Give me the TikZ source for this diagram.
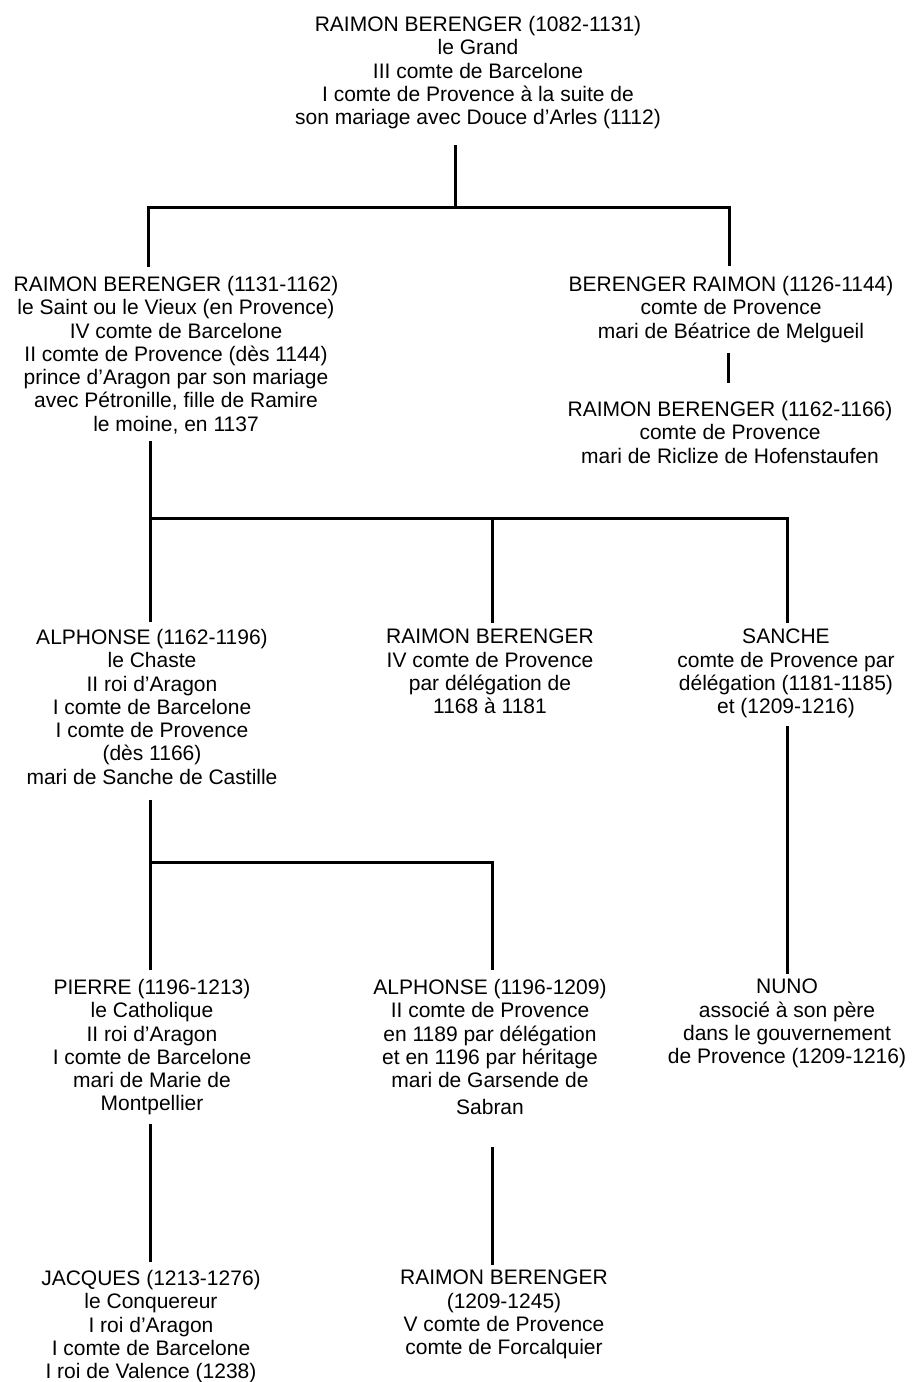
\documentclass[tikz,border=0pt]{standalone}
\usepackage{fontspec}
\setmainfont{Liberation Sans}
\usepackage{tikz}
\tikzstyle{person}=[align=center, anchor=north, inner sep=0pt, font=\fontsize{21}{23.3}\selectfont, execute at begin node={\rule{0pt}{16pt}}]
\tikzstyle{edge} = [draw,line width=3pt,-]

\begin{document}
\begin{tikzpicture}[x=1pt,y=1pt]
\useasboundingbox (0,0) rectangle (919,-1382);
% First we place the people

\node[person] (top) at (478,-16) {RAIMON BERENGER (1082-1131)\\le Grand\\III comte de Barcelone\\I comte de Provence à la suite de\\son mariage avec Douce d'Arles (1112)};

\node[person] (rbsaint) at (176,-276) {RAIMON BERENGER (1131-1162)\\le Saint ou le Vieux (en Provence)\\IV comte de Barcelone\\II comte de Provence (dès 1144)\\prince d'Aragon par son mariage\\avec Pétronille, fille de Ramire\\le moine, en 1137};
\node[person] (beraimon) at (731,-276) {BERENGER RAIMON (1126-1144)\\comte de Provence\\mari de Béatrice de Melgueil};
\node[person] (rbprov) at (730,-401) {RAIMON BERENGER (1162-1166)\\comte de Provence\\mari de Riclize de Hofenstaufen};

\node[person] (alph) at (152,-629) {ALPHONSE (1162-1196)\\le Chaste\\II roi d'Aragon\\I comte de Barcelone\\I comte de Provence\\(dès 1166)\\mari de Sanche de Castille};
\node[person] (rbdeleg) at (490,-629) {RAIMON BERENGER\\IV comte de Provence\\par délégation de\\1168 à 1181};
\node[person] (sanche) at (786,-629) {SANCHE\\comte de Provence par\\délégation (1181-1185)\\et (1209-1216)};

\node[person] (pierre) at (152,-979) {PIERRE (1196-1213)\\le Catholique\\II roi d'Aragon\\I comte de Barcelone\\mari de Marie de\\Montpellier};
\node[person] (alph2) at (490,-979) {ALPHONSE (1196-1209)\\II comte de Provence\\en 1189 par délégation\\et en 1196 par héritage\\mari de Garsende de\\[4pt]Sabran};
\node[person] (nuno) at (787,-979) {NUNO\\associé à son père\\dans le gouvernement\\de Provence (1209-1216)};

\node[person] (jacques) at (151,-1270) {JACQUES (1213-1276)\\le Conquereur\\I roi d'Aragon\\I comte de Barcelone\\I roi de Valence (1238)};
\node[person] (rbv) at (504,-1270) {RAIMON BERENGER\\(1209-1245)\\V comte de Provence\\comte de Forcalquier};

% Then the lines between generations
\coordinate (f1) at (455,-207);
\coordinate (f2) at (150,-518);
\coordinate (f3) at (150,-862);

\path[edge] ([xshift=-23pt,yshift=-16pt]top.south) -- (f1);
\path[edge] ([xshift=-28pt,yshift=9pt]rbsaint.north) |- (f1) -| ([xshift=-2pt,yshift=10pt]beraimon.north);
\path[edge] ([xshift=-3pt,yshift=-10pt]beraimon.south) -- ([xshift=-2pt,yshift=18pt]rbprov.north);

\path[edge] ([xshift=-26pt,yshift=-7pt]rbsaint.south) -- (f2);
\path[edge] ([xshift=-2pt,yshift=7pt]alph.north) -- (f2) -| ([xshift=1pt,yshift=6pt]sanche.north);
\path[edge] ([xshift=2pt,yshift=6pt]rbdeleg.north) -- ([xshift=2pt]rbdeleg.north |- f2);
\path[edge] ([xshift=1pt,yshift=-8pt]sanche.south) -- ([yshift=5pt]nuno.north);

\path[edge] ([xshift=-2pt,yshift=-15pt]alph.south) -- (f3);
\path[edge] ([xshift=-2pt,yshift=9pt]pierre.north) -- (f3) -| ([xshift=2pt,yshift=9pt]alph2.north);
\path[edge] ([xshift=-2pt,yshift=-9pt]pierre.south) -- ([xshift=-1pt,yshift=8pt]jacques.north);
\path[edge] ([xshift=2pt,yshift=-32pt]alph2.south) -- ([xshift=-12pt,yshift=5pt]rbv.north);

\end{tikzpicture}
\end{document}
